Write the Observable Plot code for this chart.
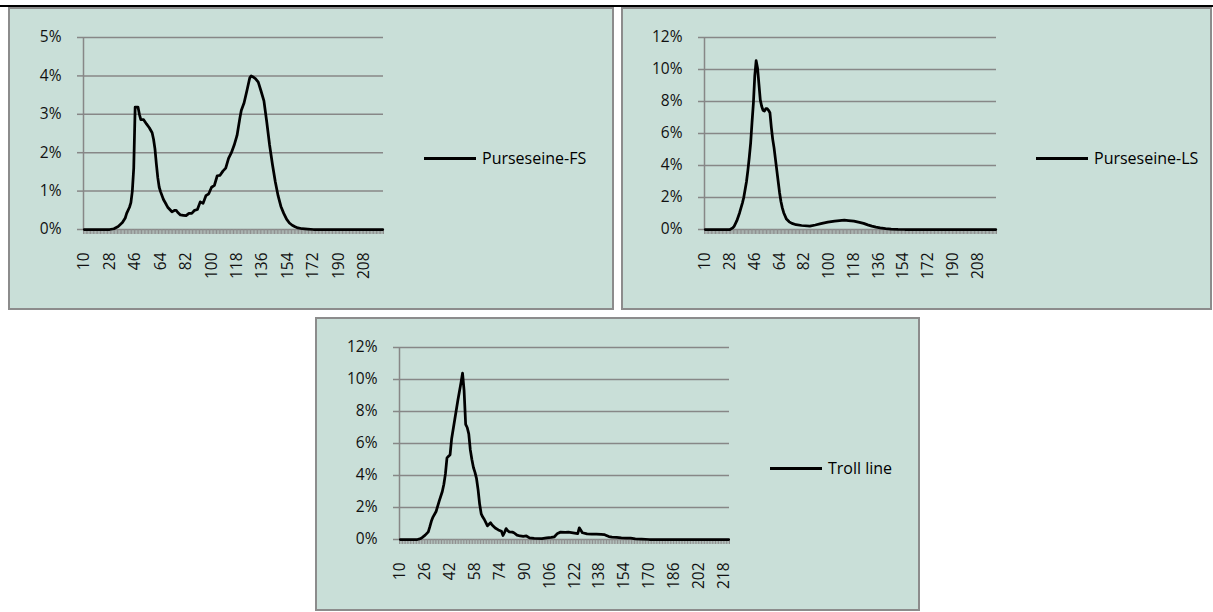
<!DOCTYPE html>
<html><head><meta charset="utf-8">
<script src="https://cdn.jsdelivr.net/npm/d3@7"></script>
<script src="https://cdn.jsdelivr.net/npm/@observablehq/plot@0.6"></script>
<style>
body{margin:0;background:#fff;}
#root{position:relative;width:1213px;height:612px;overflow:hidden;font-family:"Open Sans",sans-serif;}
.panel{position:absolute;box-sizing:border-box;background:#c9dfd8;border:2px solid #8c8c8c;}
.chart{position:absolute;}
.legend{position:absolute;display:flex;align-items:center;font-size:16px;color:#000;transform:translateY(-50%);white-space:nowrap;}
.legend .swatch{width:52px;height:3px;background:#000;margin-right:6px;}
.topline{position:absolute;left:0;top:5px;width:1213px;height:2px;background:#000;}
</style></head><body><div id="root"></div>
<script>
// Length classes (categories on the x axis)
const lengthClasses = d3.range(10, 222);

// Purseseine-FS (% by length)
const fsLength = [10,20,28,31,34,37,39,40,42,43,44,45,46,48,49,50,52,54,56,58,59,60,61,62,63,64,66,68,69,71,72,74,75,76,78,80,82,84,86,88,90,92,94,96,98,100,102,104,106,108,110,112,114,116,118,120,121,123,125,127,128,129,131,133,135,137,139,141,143,145,147,149,151,153,155,157,159,161,164,168,172,221];
const fsPercent = [0,0,0,0.02,0.08,0.18,0.3,0.42,0.58,0.7,1.0,1.6,3.19,3.19,3.0,2.86,2.86,2.75,2.65,2.52,2.35,2.1,1.7,1.35,1.1,0.98,0.78,0.65,0.58,0.5,0.46,0.5,0.5,0.45,0.38,0.37,0.36,0.42,0.42,0.5,0.52,0.72,0.68,0.88,0.93,1.1,1.15,1.4,1.41,1.52,1.6,1.85,2.0,2.2,2.45,2.9,3.1,3.3,3.62,3.95,4.0,3.98,3.93,3.84,3.6,3.35,2.8,2.2,1.7,1.25,0.88,0.6,0.42,0.27,0.17,0.11,0.07,0.04,0.02,0.01,0,0];

// Purseseine-LS
const lsLength = [10,28,30,31,33,35,37,38,40,41,42,43,44,45,46,47,48,49,50,51,52,53,54,55,56,57,58,59,60,61,62,63,64,65,66,67,69,71,73,76,80,86,90,94,99,104,111,114,118,122,125,128,131,134,137,141,145,150,155,221];
const lsPercent = [0,0,0.1,0.2,0.55,1.05,1.65,2.0,3.0,3.7,4.5,5.4,6.7,7.9,9.6,10.55,10.1,9.1,8.1,7.7,7.45,7.4,7.55,7.55,7.45,7.3,6.4,5.65,5.1,4.4,3.7,3.0,2.3,1.75,1.35,1.05,0.65,0.48,0.38,0.3,0.25,0.21,0.28,0.37,0.46,0.53,0.58,0.56,0.52,0.45,0.38,0.29,0.21,0.15,0.1,0.06,0.03,0.01,0,0];

// Troll line
const trLength = [10,21,23,24,26,28,29,30,31,33,35,37,38,39,40,41,42,43,45,47,49,50,51,52,53,54,55,56,57,58,59,60,61,62,63,64,65,66,67,68,69,71,73,75,76,77,78,79,80,82,83,85,87,89,91,93,96,101,104,107,109,111,113,116,118,121,124,125,127,130,133,136,139,141,142,144,146,149,152,155,158,161,165,170,221];
const trPercent = [0,0,0.05,0.12,0.27,0.48,0.8,1.15,1.4,1.75,2.4,3.0,3.45,4.1,5.1,5.2,5.3,6.3,7.5,8.7,9.8,10.4,9.3,7.2,7.0,6.6,5.6,5.0,4.5,4.2,3.8,3.1,2.2,1.6,1.4,1.25,1.05,0.85,0.95,1.05,0.9,0.72,0.6,0.52,0.25,0.45,0.68,0.55,0.48,0.46,0.42,0.27,0.22,0.2,0.22,0.1,0.07,0.06,0.1,0.13,0.17,0.38,0.46,0.44,0.46,0.42,0.37,0.73,0.42,0.35,0.34,0.33,0.32,0.31,0.27,0.18,0.15,0.13,0.1,0.09,0.08,0.04,0.02,0,0];

const seriesNames = ["Purseseine-FS", "Purseseine-LS", "Troll line"];

const root = document.getElementById("root");
const grey = "#878787";

function addDiv(cls, css, html) {
  const d = document.createElement("div");
  d.className = cls;
  Object.assign(d.style, css);
  if (html) d.innerHTML = html;
  root.appendChild(d);
  return d;
}

function makeChart(cfg) {
  const data = cfg.lengths.map((l, i) => ({length: l, pct: cfg.values[i]}));
  const lo = lengthClasses[0] - 0.5, hi = lengthClasses[lengthClasses.length - 1] + 0.5;
  const yTicks = d3.range(0, cfg.yMax + cfg.yStep / 2, cfg.yStep);
  const labelTicks = lengthClasses.filter((d, i) => i % cfg.labelStep === 0);
  const bounds = lengthClasses.map(d => d - 0.5).concat([hi]);
  return Plot.plot({
    width: cfg.width, height: cfg.height,
    marginLeft: cfg.ml, marginRight: cfg.mr, marginTop: cfg.mt, marginBottom: cfg.mb,
    style: {background: "transparent", fontFamily: "'Open Sans', sans-serif", fontSize: "15.5px", color: "#111", overflow: "visible"},
    x: {domain: [lo, hi], label: null},
    y: {domain: [0, cfg.yMax], label: null},
    marks: [
      Plot.gridY(yTicks, {stroke: grey, strokeOpacity: 1, strokeWidth: 1.5}),
      Plot.axisY(yTicks, {tickSize: 6, tickPadding: 16, stroke: grey, strokeWidth: 1.5, tickFormat: d => d + "%", label: null, fill: "#111"}),
      Plot.ruleX([lo], {stroke: grey, strokeWidth: 1.5}),
      Plot.axisX(bounds, {tickSize: 5, tickFormat: () => "", stroke: "#8e8e8e", strokeWidth: 1, label: null}),
      Plot.axisX(labelTicks, {tickSize: 0, tickPadding: 23, tickRotate: -90, tickFormat: d => String(d), label: null, fill: "#111"}),
      Plot.line(data, {x: "length", y: "pct", stroke: "#000", strokeWidth: 2.75, strokeLinejoin: "round", strokeLinecap: "round"})
    ]
  });
}

addDiv("topline", {});

const panels = [
  {box: [8, 7, 606, 303], svgPos: [8, 7], lengths: fsLength, values: fsPercent, yMax: 5, yStep: 1, labelStep: 18,
   width: 400, height: 300, ml: 75, mr: 25, mt: 30, mb: 78, legend: [424, 158], name: seriesNames[0]},
  {box: [621, 7, 591, 303], svgPos: [621, 7], lengths: lsLength, values: lsPercent, yMax: 12, yStep: 2, labelStep: 18,
   width: 400, height: 300, ml: 83, mr: 25, mt: 30, mb: 78, legend: [1036, 158], name: seriesNames[1]},
  {box: [315, 317, 605, 294], svgPos: [315, 317], lengths: trLength, values: trPercent, yMax: 12, yStep: 2, labelStep: 16,
   width: 440, height: 300, ml: 84, mr: 26, mt: 30, mb: 78, legend: [770, 468], name: seriesNames[2]}
];

for (const p of panels) {
  addDiv("panel", {left: p.box[0] + "px", top: p.box[1] + "px", width: p.box[2] + "px", height: p.box[3] + "px"});
  const holder = addDiv("chart", {left: p.svgPos[0] + "px", top: p.svgPos[1] + "px"});
  holder.appendChild(makeChart(p));
  addDiv("legend", {left: p.legend[0] + "px", top: p.legend[1] + "px"}, `<span class="swatch"></span><span>${p.name}</span>`);
}
</script>
</body></html>
